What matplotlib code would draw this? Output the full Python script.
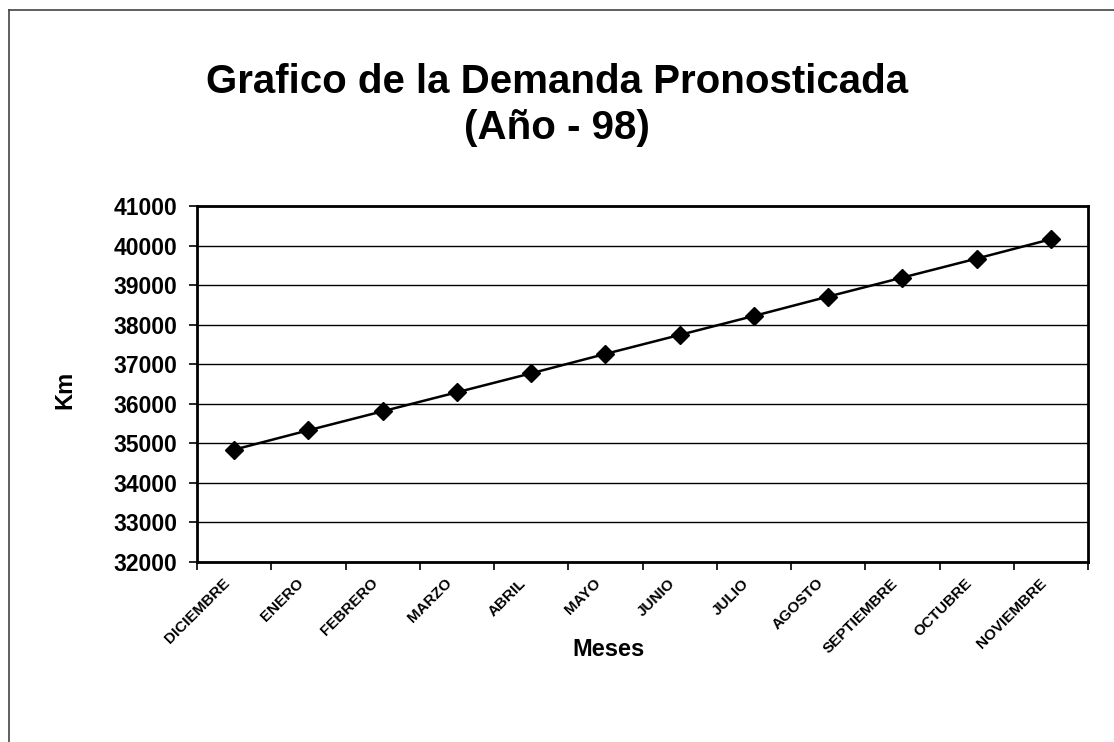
import matplotlib
matplotlib.use("Agg")
import matplotlib.pyplot as plt
from matplotlib.lines import Line2D
from matplotlib.transforms import ScaledTranslation

months = ["DICIEMBRE", "ENERO", "FEBRERO", "MARZO", "ABRIL", "MAYO", "JUNIO",
          "JULIO", "AGOSTO", "SEPTIEMBRE", "OCTUBRE", "NOVIEMBRE"]
demand = [34840, 35330, 35810, 36290, 36770, 37260, 37740,
          38220, 38710, 39190, 39670, 40160]
y_ticks = [32000, 33000, 34000, 35000, 36000, 37000, 38000, 39000, 40000, 41000]

plt.rcParams['font.family'] = ['Liberation Sans', 'DejaVu Sans']

fig = plt.figure(figsize=(11.14, 7.42), dpi=100)
ax = fig.add_axes([197/1114, 1-562/742, (1088-197)/1114, (562-206)/742])

x = list(range(len(months)))
ax.plot(x, demand, color='black', lw=1.8, marker='D', ms=9.5, mfc='black', mec='black', zorder=3)

ax.set_xlim(-0.5, len(months)-0.5)
ax.set_ylim(y_ticks[0], y_ticks[-1])
ax.set_yticks(y_ticks)
ax.set_yticklabels([str(v) for v in y_ticks], fontsize=16.5, fontweight='bold')
ax.yaxis.grid(True, color='black', lw=1.0)
ax.set_axisbelow(True)

# ticks at category boundaries, labels at category centres
ax.set_xticks([i - 0.5 for i in range(len(months)+1)])
ax.set_xticklabels([])
ax.tick_params(axis='x', length=6, width=1.2, direction='out')
ax.tick_params(axis='y', length=6, width=1.2, direction='out', pad=8)

lbl_tr = ax.get_xaxis_transform() + ScaledTranslation(-12/100, -14/100, fig.dpi_scale_trans)
for i, m in zip(x, months):
    ax.text(i, 0, m, transform=lbl_tr, rotation=45, ha='right', va='top',
            rotation_mode='anchor', fontsize=11, fontweight='bold', clip_on=False)

for s in ax.spines.values():
    s.set_linewidth(2.0)
    s.set_color('black')

fig.text(0.5, 1-82/742, "Grafico de la Demanda Pronosticada", ha='center', va='center',
         fontsize=29, fontweight='bold')
fig.text(0.5, 1-128/742, "(Año - 98)", ha='center', va='center',
         fontsize=29, fontweight='bold')
fig.text(65/1114, 1-390/742, "Km", rotation=90, ha='center', va='center',
         fontsize=17, fontweight='bold')
fig.text(608/1114, 1-650/742, "Meses", ha='center', va='center',
         fontsize=17, fontweight='bold')

fig.add_artist(Line2D([9/1114, 9/1114], [0, 1-10/742], transform=fig.transFigure,
                      color='#444444', lw=1.2))
fig.add_artist(Line2D([9/1114, 1], [1-10/742, 1-10/742], transform=fig.transFigure,
                      color='#444444', lw=1.2))

fig.savefig("out.png", dpi=100)
